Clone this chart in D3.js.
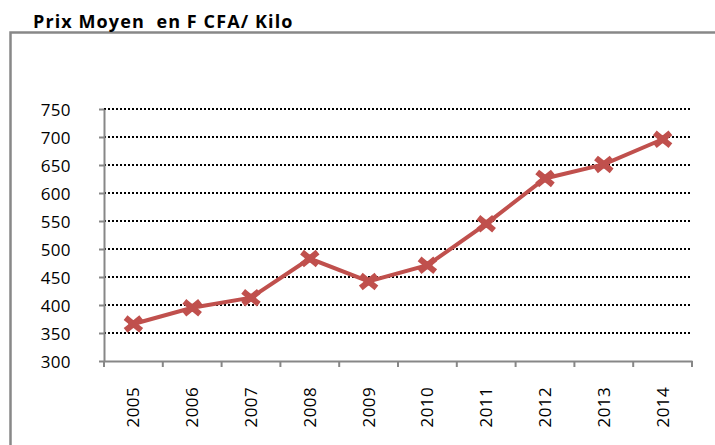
<!DOCTYPE html>
<html><head><meta charset="utf-8">
<script src="https://cdn.jsdelivr.net/npm/d3@7"></script>
<style>body{margin:0;background:#fff}svg{display:block}</style>
</head><body>
<script>
const years = ["2005","2006","2007","2008","2009","2010","2011","2012","2013","2014"];
const prices = [366, 395, 413, 483, 442, 471, 545, 626, 651, 696];
const yTicks = [300,350,400,450,500,550,600,650,700,750];
const title = "Prix Moyen\u00a0 en F CFA/ Kilo";

const W = 715, H = 445;
const svg = d3.select("body").append("svg").attr("width", W).attr("height", H);
svg.append("rect").attr("width", W).attr("height", H).attr("fill", "#fff");

// outer frame
svg.append("path").attr("d", "M10.5,445 V32.5 H715")
  .attr("fill", "none").attr("stroke", "#888").attr("stroke-width", 2.5);

svg.append("text").attr("x", 33).attr("y", 27.5)
  .attr("font-family", "'Open Sans', sans-serif").attr("font-weight", "bold")
  .attr("font-size", 18).attr("letter-spacing", 1.1).attr("fill", "#000").text(title);

const x = d3.scaleBand().domain(years).range([104, 692]).padding(0);
const y = d3.scaleLinear().domain([300, 750]).range([361, 109]);

// gridlines
svg.append("g").selectAll("line").data(yTicks.filter(d => d > 300)).join("line")
  .attr("x1", 104).attr("x2", 692)
  .attr("y1", d => y(d)).attr("y2", d => y(d))
  .attr("stroke", "#000").attr("stroke-width", 2).attr("stroke-dasharray", "2,2");

const font = "'Open Sans', sans-serif";
// y axis
const yAxis = svg.append("g").attr("transform", "translate(104,0)")
  .call(d3.axisLeft(y).tickValues(yTicks).tickSize(5).tickPadding(28).tickSizeOuter(0));
yAxis.select(".domain").attr("stroke", "#878787").attr("stroke-width", 2);
yAxis.selectAll(".tick line").attr("stroke", "#878787").attr("stroke-width", 2);
yAxis.selectAll("text").attr("font-family", font).attr("font-size", 17).attr("letter-spacing", 0.4)
  .attr("fill", "#000").attr("dy", "0.36em");

// x axis
const xAxis = svg.append("g").attr("transform", "translate(0,361)")
  .call(d3.axisBottom(x).tickSize(0).tickSizeOuter(0));
xAxis.select(".domain").attr("stroke", "#878787").attr("stroke-width", 2);
xAxis.selectAll(".tick text").attr("font-family", font).attr("font-size", 17).attr("letter-spacing", 0.4)
  .attr("fill", "#000")
  .attr("text-anchor", "end").attr("dy", null).attr("y", 0)
  .attr("transform", "translate(6,26) rotate(-90)");
svg.append("g").selectAll("line").data(years.concat(["end"])).join("line")
  .attr("x1", (d, i) => 104 + i * x.bandwidth()).attr("x2", (d, i) => 104 + i * x.bandwidth())
  .attr("y1", 361).attr("y2", 367).attr("stroke", "#878787").attr("stroke-width", 2);

// line
const line = d3.line().x((d, i) => x(years[i]) + x.bandwidth() / 2).y(d => y(d));
svg.append("path").datum(prices).attr("d", line)
  .attr("fill", "none").attr("stroke", "#C0504D").attr("stroke-width", 4);

// markers
const mk = svg.append("g").selectAll("g").data(prices).join("g")
  .attr("transform", (d, i) => `translate(${x(years[i]) + x.bandwidth() / 2},${y(d)})`);
mk.append("path").attr("d", "M-5.5,-4.5 L5.5,4.5 M-5.5,4.5 L5.5,-4.5")
  .attr("stroke", "#C0504D").attr("stroke-width", 6).attr("stroke-linecap", "square");
mk.append("rect").attr("x", -5).attr("y", -4).attr("width", 10).attr("height", 8).attr("fill", "#C0504D");
</script>
</body></html>
